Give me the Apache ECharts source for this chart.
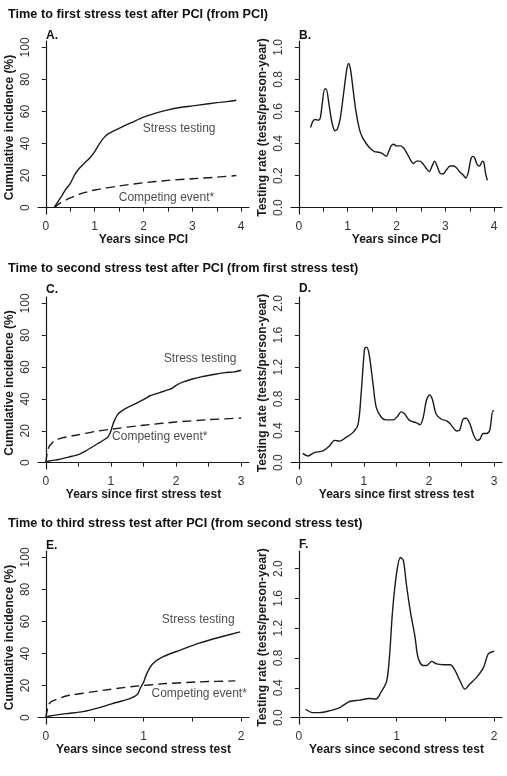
<!DOCTYPE html>
<html>
<head>
<meta charset="utf-8">
<script src="https://cdn.jsdelivr.net/npm/echarts@6/dist/echarts.min.js"></script>
<style>
  html, body { margin: 0; padding: 0; background: #fff; }
  #chart { width: 507px; height: 776px; }
</style>
</head>
<body>
<div id="chart"></div>
<script>
// ---- data ----
const titles = [
  "Time to first stress test after PCI (from PCI)",
  "Time to second stress test after PCI (from first stress test)",
  "Time to third stress test after PCI (from second stress test)",
];
const panelLetters = ["A.", "B.", "C.", "D.", "E.", "F."];
const xNames = ["Years since PCI", "Years since first stress test", "Years since second stress test"];
const yNameCum = "Cumulative incidence (%)";
const yNameRate = "Testing rate (tests/person-year)";

const xTicks4 = [0, 0.5, 1, 1.5, 2, 2.5, 3, 3.5, 4];
const xLabels4 = [0, 1, 2, 3, 4];
const xTicks3 = [0, 0.5, 1, 1.5, 2, 2.5, 3];
const xLabels3 = [0, 1, 2, 3];
const xTicks2 = [0, 0.5, 1, 1.5, 2];
const xLabels2 = [0, 1, 2];
const yCumTicks = [0, 20, 40, 60, 80, 100];
const yRate1Ticks = [0, 0.2, 0.4, 0.6, 0.8, 1.0];
const yRate2Ticks = [0, 0.4, 0.8, 1.2, 1.6, 2.0];

// A: cumulative incidence, first test
const aStress = [[0.17,0],[0.3,6],[0.4,11],[0.5,15],[0.6,21],[0.7,25],[0.8,28],[0.9,31],[1.0,35],[1.1,40],[1.2,44],[1.3,46.5],[1.5,49.5],[1.75,53],[2.0,56.5],[2.25,59],[2.5,61],[2.75,62.5],[3.0,63.5],[3.25,64.5],[3.5,65.5],[3.75,66.3],[3.9,67]];
const aCompeting = [[0.17,0],[0.3,3],[0.5,6],[0.75,9],[1.0,11],[1.5,13.5],[2.0,15.5],[2.5,17],[3.0,18],[3.5,19],[3.9,20]];
// B: testing rate, first test
const bRate = [[0.24,0.50],[0.29,0.54],[0.34,0.55],[0.40,0.545],[0.44,0.56],[0.48,0.65],[0.53,0.74],[0.56,0.74],[0.62,0.64],[0.68,0.53],[0.74,0.48],[0.79,0.49],[0.85,0.56],[0.92,0.72],[0.98,0.86],[1.02,0.90],[1.06,0.86],[1.11,0.74],[1.17,0.60],[1.24,0.49],[1.3,0.44],[1.38,0.40],[1.46,0.37],[1.55,0.35],[1.65,0.345],[1.72,0.335],[1.79,0.32],[1.84,0.35],[1.89,0.385],[1.94,0.395],[2.0,0.385],[2.08,0.385],[2.15,0.37],[2.22,0.335],[2.3,0.29],[2.35,0.275],[2.41,0.29],[2.48,0.29],[2.55,0.27],[2.62,0.24],[2.67,0.225],[2.73,0.26],[2.78,0.29],[2.83,0.26],[2.89,0.215],[2.95,0.21],[3.02,0.235],[3.1,0.26],[3.18,0.26],[3.25,0.24],[3.3,0.22],[3.36,0.205],[3.42,0.185],[3.47,0.22],[3.52,0.3],[3.56,0.32],[3.6,0.31],[3.65,0.27],[3.7,0.26],[3.76,0.29],[3.79,0.28],[3.82,0.22],[3.86,0.17]];
// C: cumulative incidence, second test
const cStress = [[0,0],[0.05,1],[0.2,2],[0.35,3.5],[0.5,5],[0.6,7],[0.7,9.5],[0.8,12],[0.9,14.5],[0.95,16],[0.98,18],[1.0,20],[1.03,24],[1.06,27],[1.1,30],[1.15,32],[1.25,34.5],[1.4,37.5],[1.5,39.5],[1.6,42],[1.75,44],[1.9,46],[1.95,47],[2.0,48.5],[2.1,50.5],[2.25,52.5],[2.4,54],[2.6,55.5],[2.75,56.5],[2.9,57],[3.0,58]];
const cCompeting = [[0,0],[0.02,6],[0.05,10],[0.1,12.5],[0.15,14],[0.25,15.5],[0.5,17.5],[0.75,19.5],[1.0,21],[1.5,23.5],[2.0,25.5],[2.5,27],[3.0,28]];
// D: testing rate, second test
const dRate = [[0.06,0.117],[0.14,0.084],[0.24,0.126],[0.37,0.147],[0.47,0.21],[0.55,0.28],[0.63,0.27],[0.73,0.32],[0.83,0.377],[0.91,0.48],[0.96,0.9],[1.01,1.43],[1.04,1.45],[1.08,1.36],[1.14,0.985],[1.19,0.69],[1.27,0.566],[1.34,0.537],[1.45,0.537],[1.52,0.587],[1.57,0.637],[1.62,0.616],[1.7,0.53],[1.81,0.5],[1.86,0.474],[1.91,0.566],[1.96,0.784],[2.01,0.851],[2.05,0.797],[2.11,0.608],[2.19,0.545],[2.27,0.524],[2.32,0.49],[2.37,0.44],[2.42,0.398],[2.47,0.407],[2.52,0.545],[2.57,0.558],[2.63,0.482],[2.68,0.356],[2.74,0.28],[2.78,0.293],[2.83,0.365],[2.88,0.365],[2.93,0.4],[2.98,0.65],[3.0,0.65]];
// E: cumulative incidence, third test
const eStress = [[0,0],[0.04,1],[0.21,2.5],[0.38,3.75],[0.55,6.25],[0.72,9.4],[0.86,11.9],[0.94,14.6],[0.97,18.8],[1.0,21.9],[1.03,27],[1.09,33.3],[1.2,38],[1.37,42],[1.57,46.5],[1.77,50],[1.99,53.5]];
const eCompeting = [[0,0],[0.03,8.3],[0.07,10.4],[0.21,13.5],[0.55,16.7],[0.89,19.4],[1.23,21.25],[1.57,22.3],[1.94,22.9]];
// F: testing rate, third test
const fRate = [[0.07,0.112],[0.14,0.067],[0.21,0.067],[0.31,0.09],[0.42,0.135],[0.52,0.216],[0.62,0.234],[0.72,0.256],[0.79,0.25],[0.84,0.337],[0.9,0.494],[0.93,0.854],[0.96,1.438],[1.0,1.93],[1.04,2.148],[1.07,2.11],[1.1,1.8],[1.14,1.44],[1.19,1.08],[1.22,0.81],[1.27,0.7],[1.31,0.7],[1.36,0.755],[1.41,0.72],[1.48,0.71],[1.55,0.71],[1.6,0.63],[1.65,0.494],[1.7,0.382],[1.75,0.45],[1.82,0.54],[1.89,0.67],[1.94,0.854],[2.0,0.89]];

// text annotations in data coordinates [x, y]
const aLabels = [[2.73, 49, "Stress testing"], [2.47, 6, "Competing event*"]];
const cLabels = [[2.37, 65, "Stress testing"], [1.75, 16, "Competing event*"]];
const eLabels = [[1.56, 61, "Stress testing"], [1.57, 15, "Competing event*"]];

// ---- layout ----
const FONT = "Liberation Sans, Arial, sans-serif";
const INK = "#1a1a1a";
const rows = [41, 297, 551];
const colLeft = [38, 291];

function grid(row, col, h) {
  return { left: colLeft[col], top: rows[row], width: 211, height: h || 173 };
}

function xAxis(idx, min, max, ticks, labels, name) {
  return {
    type: "value", gridIndex: idx, min, max, name,
    nameLocation: "middle", nameGap: 20,
    nameTextStyle: { fontFamily: FONT, fontWeight: "bold", fontSize: 12, color: INK },
    splitLine: { show: false },
    axisLine: { lineStyle: { color: INK, width: 1.2 } },
    axisTick: { customValues: ticks, length: 4, lineStyle: { color: INK } },
    axisLabel: { customValues: labels, margin: 7, fontFamily: FONT, fontSize: 12, color: "#333" },
  };
}

function yAxis(idx, min, max, ticks, name, fmt) {
  return {
    type: "value", gridIndex: idx, min, max, name,
    nameLocation: "middle", nameGap: 22,
    nameTextStyle: { fontFamily: FONT, fontWeight: "bold", fontSize: 12, color: INK },
    splitLine: { show: false },
    axisLine: { show: true, lineStyle: { color: INK, width: 1.2 } },
    axisTick: { customValues: ticks, length: 4, lineStyle: { color: INK } },
    axisLabel: { customValues: ticks, rotate: 90, margin: 6, fontFamily: FONT, fontSize: 12, color: "#333",
      formatter: fmt },
  };
}

function line(idx, data, dashed, smooth) {
  return {
    type: "line", xAxisIndex: idx, yAxisIndex: idx, data,
    showSymbol: false, smooth: smooth, silent: true,
    lineStyle: { color: INK, width: 1.4, type: dashed ? [9, 5] : "solid" },
  };
}

function notes(idx, items) {
  return {
    type: "scatter", xAxisIndex: idx, yAxisIndex: idx, symbolSize: 0, silent: true,
    data: items.map(d => ({ value: [d[0], d[1]], name: d[2] })),
    label: { show: true, position: "inside", formatter: p => p.name,
      fontFamily: FONT, fontSize: 12, color: INK },
  };
}

const oneDec = v => v.toFixed(1);

const titleItems = [];
titles.forEach((t, i) => titleItems.push({
  text: t, left: 3, top: [3, 257, 512][i],
  textStyle: { fontFamily: FONT, fontWeight: "bold", fontSize: 12.7, color: "#111" },
}));
panelLetters.forEach((t, i) => titleItems.push({
  text: t, left: i % 2 ? 294 : 41, top: [25, 25, 279, 278, 535, 534][i],
  textStyle: { fontFamily: FONT, fontWeight: "bold", fontSize: 12, color: "#111" },
}));

const option = {
  backgroundColor: "#fff",
  animation: false,
  title: titleItems,
  grid: [grid(0, 0), grid(0, 1), grid(1, 0, 172), grid(1, 1, 172), grid(2, 0), grid(2, 1)],
  xAxis: [
    xAxis(0, -0.16, 4.16, xTicks4, xLabels4, xNames[0]),
    xAxis(1, -0.16, 4.16, xTicks4, xLabels4, xNames[0]),
    xAxis(2, -0.12, 3.12, xTicks3, xLabels3, xNames[1]),
    xAxis(3, -0.12, 3.12, xTicks3, xLabels3, xNames[1]),
    xAxis(4, -0.08, 2.08, xTicks2, xLabels2, xNames[2]),
    xAxis(5, -0.08, 2.08, xTicks2, xLabels2, xNames[2]),
  ],
  yAxis: [
    yAxis(0, -4, 104, yCumTicks, yNameCum),
    yAxis(1, -0.04, 1.04, yRate1Ticks, yNameRate, oneDec),
    yAxis(2, -4, 104, yCumTicks, yNameCum),
    yAxis(3, -0.08, 2.08, yRate2Ticks, yNameRate, oneDec),
    yAxis(4, -4, 104, yCumTicks, yNameCum),
    yAxis(5, -0.086, 2.236, yRate2Ticks, yNameRate, oneDec),
  ],
  series: [
    line(0, aStress, false, 0.2), line(0, aCompeting, true, 0.2), notes(0, aLabels),
    line(1, bRate, false, 0.3),
    line(2, cStress, false, 0.2), line(2, cCompeting, true, 0.2), notes(2, cLabels),
    line(3, dRate, false, 0.3),
    line(4, eStress, false, 0.2), line(4, eCompeting, true, 0.2), notes(4, eLabels),
    line(5, fRate, false, 0.3),
  ],
};

const chart = echarts.init(document.getElementById("chart"), null, { renderer: "canvas" });
chart.setOption(option);
</script>
</body>
</html>
